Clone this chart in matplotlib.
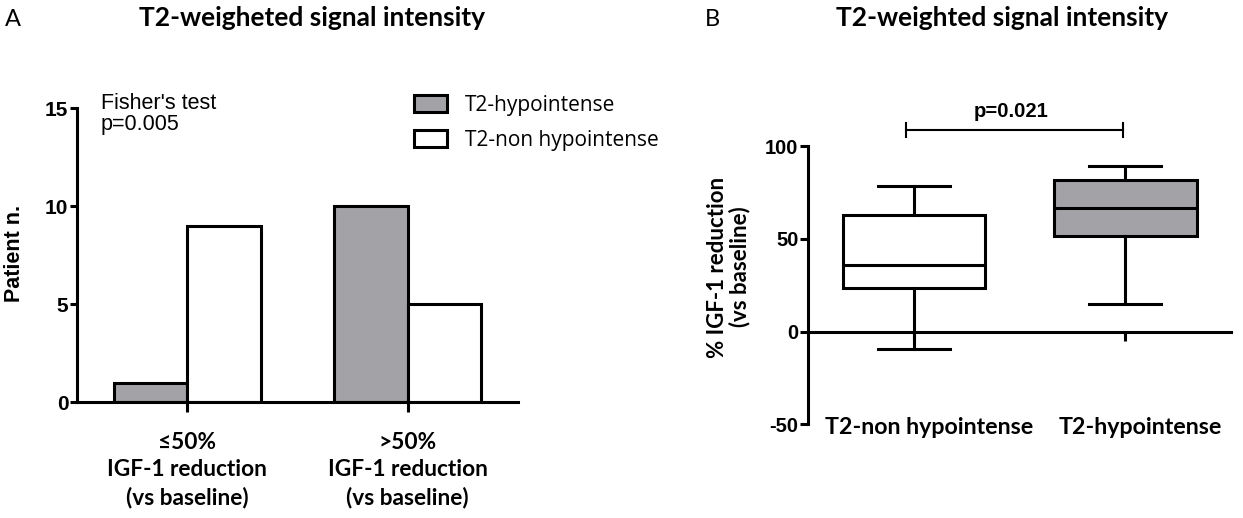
import matplotlib
matplotlib.use("Agg")
import matplotlib.pyplot as plt
import numpy as np

# ---------------- data ----------------
# Panel A: patient counts
categories_a = ["\u226450%\nIGF-1 reduction\n(vs baseline)", ">50%\nIGF-1 reduction\n(vs baseline)"]
hypo_counts = [1, 10]
nonhypo_counts = [9, 5]
series_names = ["T2-hypointense", "T2-non hypointense"]
yticks_a = [0, 5, 10, 15]

# Panel B: box plot summary (% IGF-1 reduction)
groups_b = ["T2-non hypointense", "T2-hypointense"]
whis_lo = [-9.5, 15.0]
q1_vals = [23.2, 51.7]
medians = [36.0, 66.5]
q3_vals = [63.0, 81.8]
whis_hi = [78.5, 89.3]
yticks_b = [-50, 0, 50, 100]

GRAY = "#a3a3a7"
LW = 2.2

W, H = 1243, 518
fig = plt.figure(figsize=(W / 100, H / 100), dpi=100)

def fx(px):
    return px / W

def fy(py):
    return 1 - py / H

# ---------------- Panel A ----------------
axA = fig.add_axes([fx(76.7), fy(402.3), fx(518 - 76.7), (402.3 - 108.3) / H])
x = np.arange(len(categories_a))
bw = 0.333
b1 = axA.bar(x - bw / 2, hypo_counts, bw, color=GRAY, edgecolor="black", linewidth=LW, label=series_names[0])
b2 = axA.bar(x + bw / 2, nonhypo_counts, bw, color="white", edgecolor="black", linewidth=LW, label=series_names[1])
axA.set_xlim(-0.5, 1.5)
axA.set_ylim(0, 15)
axA.set_yticks(yticks_a)
axA.set_yticklabels([str(v) for v in yticks_a], fontfamily="Liberation Sans", fontweight="bold", fontsize=15)
axA.set_xticks(x)
axA.set_xticklabels(categories_a, fontfamily="Lato", fontweight="bold", fontsize=16.3, linespacing=1.36)
axA.tick_params(axis="x", direction="out", length=7.5, width=LW, pad=14)
axA.tick_params(axis="y", direction="out", length=5, width=LW, pad=1)
for s in ["top", "right"]:
    axA.spines[s].set_visible(False)
for s in ["left", "bottom"]:
    axA.spines[s].set_linewidth(LW)

fig.text(fx(15), fy(253), "Patient n.", rotation=90, ha="center", va="center",
         fontfamily="Liberation Sans", fontweight="bold", fontsize=15.5)

fig.text(fx(101), fy(93), "Fisher's test\np=0.005", ha="left", va="top",
         fontfamily="Liberation Sans", fontsize=15.5, linespacing=1.0)

leg = axA.legend(handles=[b1, b2], loc="upper left", bbox_to_anchor=(fx(414), fy(95)),
                 bbox_transform=fig.transFigure, frameon=False, borderpad=0, borderaxespad=0,
                 handlelength=1.6, handleheight=0.9, handletextpad=0.85, labelspacing=0.65,
                 prop={"family": "Open Sans", "size": 15})

# ---------------- Panel B ----------------
axB = fig.add_axes([fx(808.3), fy(424.3), fx(1231 - 808.3), (424.3 - 146) / H])
stats = []
for i, name in enumerate(groups_b):
    stats.append(dict(label=name, med=medians[i], q1=q1_vals[i], q3=q3_vals[i],
                      whislo=whis_lo[i], whishi=whis_hi[i], fliers=[]))
bp = axB.bxp(stats, positions=[0, 1], widths=0.675, capwidths=0.34, patch_artist=True,
             showfliers=False,
             boxprops=dict(linewidth=LW, edgecolor="black"),
             medianprops=dict(color="black", linewidth=LW),
             whiskerprops=dict(color="black", linewidth=LW),
             capprops=dict(color="black", linewidth=LW))
for patch, fc in zip(bp["boxes"], ["white", GRAY]):
    patch.set_facecolor(fc)
axB.set_xlim(-0.5, 1.5)
axB.set_ylim(-50, 100)
axB.set_yticks(yticks_b)
axB.set_yticklabels([str(v) for v in yticks_b], fontfamily="Liberation Sans", fontweight="bold", fontsize=14.5)
axB.spines["bottom"].set_position(("data", 0))
for s in ["top", "right"]:
    axB.spines[s].set_visible(False)
for s in ["left", "bottom"]:
    axB.spines[s].set_linewidth(LW)
axB.set_xticks([0, 1])
axB.set_xticklabels(["", ""])
axB.tick_params(axis="x", direction="out", length=6.5, width=LW)
axB.tick_params(axis="y", direction="out", length=6, width=LW, pad=1)
for i, name in enumerate(groups_b):
    axB.text(i + 0.07, -51.5, name, ha="center", va="center", fontfamily="Lato",
             fontweight="bold", fontsize=16.7, clip_on=False)

# significance bracket
bx0, bx1, by, bt = -0.04, 0.99, 108.6, 4
axB.plot([bx0, bx1], [by, by], color="black", lw=1.5, clip_on=False)
axB.plot([bx0, bx0], [by - bt, by + bt], color="black", lw=1.5, clip_on=False)
axB.plot([bx1, bx1], [by - bt, by + bt], color="black", lw=1.5, clip_on=False)
axB.text(0.46, 115.5, "p=0.021", ha="center", va="baseline", fontfamily="Liberation Sans",
         fontweight="bold", fontsize=14.6, clip_on=False)

fig.text(fx(728.5), fy(267), "% IGF-1 reduction\n(vs baseline)", rotation=90, ha="center", va="center",
         fontfamily="Lato", fontweight="bold", fontsize=16, linespacing=1.05)

# ---------------- titles and panel letters ----------------
fig.text(fx(5), fy(26), "A", ha="left", va="baseline", fontfamily="Lato", fontsize=17)
fig.text(fx(705), fy(26), "B", ha="left", va="baseline", fontfamily="Lato", fontsize=17)
fig.text(fx(311.7), fy(26), "T2-weigheted signal intensity", ha="center", va="baseline",
         fontfamily="Lato", fontweight="bold", fontsize=19)
fig.text(fx(1002.5), fy(26), "T2-weighted signal intensity", ha="center", va="baseline",
         fontfamily="Lato", fontweight="bold", fontsize=19)

fig.savefig("out.png", dpi=100)
